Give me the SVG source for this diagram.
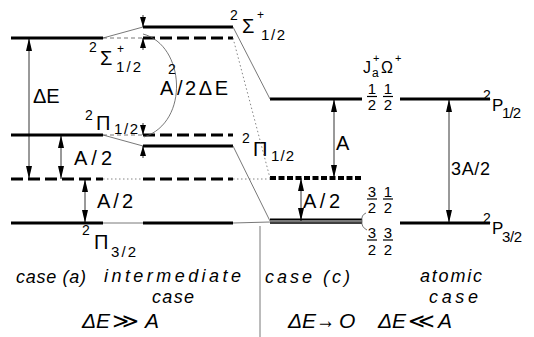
<svg xmlns="http://www.w3.org/2000/svg" width="534" height="337" viewBox="0 0 534 337">
<style>
.bg{fill:#fff}
.lvl{stroke:#000;stroke-width:3;fill:none}
.dash{stroke:#000;stroke-width:3;stroke-dasharray:12 5;fill:none}
.bdash{stroke:#000;stroke-width:4;stroke-dasharray:6 2.5;fill:none}
.thin{stroke:#555;stroke-width:0.8;fill:none}
.tdash{stroke:#555;stroke-width:0.8;stroke-dasharray:4 3;fill:none}
.dot{stroke:#666;stroke-width:0.8;stroke-dasharray:1.5 2.5;fill:none}
.arr{stroke:#000;stroke-width:0.8;fill:none;marker-start:url(#ah);marker-end:url(#ah)}
.sarr{stroke:#000;stroke-width:0.8;fill:none;marker-end:url(#ahs)}
.bar{stroke:#000;stroke-width:1.2}
text{font-family:"Liberation Sans","DejaVu Sans",sans-serif;fill:#000}
.lb{font-size:20px}
.sup{font-size:14px}
.sub{font-size:15px}
.fr{font-size:15px;text-anchor:middle}
.cap{font-size:18px;font-style:italic}
.eq{font-size:21px;font-style:italic}
</style>
<defs>
<marker id="ah" markerUnits="userSpaceOnUse" markerWidth="14" markerHeight="7" refX="13" refY="3" orient="auto-start-reverse">
<path d="M0,0 L13,3 L0,6 Z" fill="#000"/>
</marker>
<marker id="ahs" markerUnits="userSpaceOnUse" markerWidth="11" markerHeight="7" refX="10" refY="3" orient="auto">
<path d="M0,0 L10,3 L0,6 Z" fill="#000"/>
</marker>
</defs>
<rect class="bg" x="0" y="0" width="534" height="337"/>

<g id="case-a">
<line class="lvl" x1="11" y1="38" x2="103" y2="38"/>
<line class="lvl" x1="11" y1="135" x2="103" y2="135"/>
<line class="dash" x1="11" y1="179" x2="103" y2="179"/>
<line class="lvl" x1="11" y1="223" x2="103" y2="223"/>
<text class="sup" x="89" y="52">2</text><text class="lb" x="100" y="65">Σ</text><text style="font-size:12px" x="117" y="53">+</text><text class="sub" x="116" y="72" textLength="25">1/2</text>
<text class="sup" x="85" y="120">2</text><text class="lb" x="96" y="130">Π</text><text class="sub" x="114" y="134" textLength="24">1/2</text>
<text class="sup" x="82" y="235">2</text><text class="lb" x="94" y="249">Π</text><text class="sub" x="111" y="257" textLength="25">3/2</text>
</g>

<g id="intermediate">
<line class="lvl" x1="143" y1="27" x2="233" y2="27"/>
<line class="dash" x1="143" y1="38" x2="233" y2="38"/>
<line class="dash" x1="143" y1="135" x2="233" y2="135"/>
<line class="lvl" x1="143" y1="146" x2="233" y2="146"/>
<line class="dash" x1="143" y1="179" x2="233" y2="179"/>
<line class="lvl" x1="143" y1="223" x2="233" y2="223"/>
<text class="sup" x="230" y="20">2</text><text class="lb" x="242" y="33">Σ</text><text style="font-size:12px" x="257" y="19">+</text><text class="sub" x="261" y="40" textLength="24">1/2</text>
<text class="sup" x="242" y="143">2</text><text class="lb" x="253" y="156">Π</text><text class="sub" x="271" y="161" textLength="23">1/2</text>
</g>

<g id="case-c">
<line class="lvl" x1="270" y1="99" x2="362" y2="99"/>
<line class="bdash" x1="270" y1="178" x2="362" y2="178"/>
<line stroke="#000" stroke-width="2" x1="270" y1="219.5" x2="362" y2="219.5"/>
<line stroke="#777" stroke-width="1.5" x1="270" y1="221.3" x2="362" y2="221.3"/>
<line stroke="#000" stroke-width="1.5" x1="270" y1="223" x2="362" y2="223"/>
<text style="font-size:16px" x="363" y="73">J</text><text style="font-size:12px" x="372" y="77">a</text><text style="font-size:11px" x="373" y="62">+</text><text style="font-size:16px" x="381" y="73">Ω</text><text style="font-size:11px" x="395" y="62">+</text>
<text class="fr" x="372" y="94">1</text><line class="bar" x1="367" y1="96.5" x2="377" y2="96.5"/><text class="fr" x="372" y="110">2</text>
<text class="fr" x="388" y="94">1</text><line class="bar" x1="383" y1="96.5" x2="393" y2="96.5"/><text class="fr" x="388" y="110">2</text>
<text class="fr" x="372" y="197">3</text><line class="bar" x1="367" y1="199" x2="377" y2="199"/><text class="fr" x="372" y="213">2</text>
<text class="fr" x="388" y="197">1</text><line class="bar" x1="383" y1="199" x2="393" y2="199"/><text class="fr" x="388" y="213">2</text>
<text class="fr" x="372" y="238">3</text><line class="bar" x1="367" y1="240" x2="377" y2="240"/><text class="fr" x="372" y="255">2</text>
<text class="fr" x="388" y="238">3</text><line class="bar" x1="383" y1="240" x2="393" y2="240"/><text class="fr" x="388" y="255">2</text>
<path class="thin" d="M366,213 Q361,215 362,221 Q361,227 367,230"/>
</g>

<g id="atomic">
<line class="lvl" x1="400" y1="99" x2="490" y2="99"/>
<line class="lvl" x1="400" y1="223" x2="490" y2="223"/>
<text class="sup" x="483" y="100">2</text><text style="font-size:17px" x="492" y="111">P</text><text class="sub" x="502" y="118" textLength="19">1/2</text>
<text class="sup" x="483" y="223">2</text><text style="font-size:17px" x="492" y="234">P</text><text class="sub" x="502" y="242" textLength="20">3/2</text>
</g>

<g id="connectors">
<line class="thin" x1="103" y1="38" x2="143" y2="27"/>
<line class="tdash" x1="103" y1="38" x2="143" y2="38"/>
<line class="thin" x1="103" y1="135" x2="143" y2="146"/>
<line class="tdash" x1="103" y1="135" x2="143" y2="135"/>
<line class="dot" x1="103" y1="179" x2="143" y2="179"/>
<line class="thin" x1="103" y1="223" x2="143" y2="223"/>
<line class="thin" x1="233" y1="27" x2="270" y2="99"/>
<line class="dot" x1="233" y1="38" x2="270" y2="178"/>
<line class="thin" x1="233" y1="146" x2="270" y2="221"/>
<line class="dot" x1="233" y1="179" x2="270" y2="179"/>
<line class="thin" x1="233" y1="223" x2="270" y2="222"/>
<line class="thin" stroke="#000" x1="260" y1="226" x2="260" y2="337"/>
<path class="thin" stroke="#777" d="M143,34 C185,45 190,122 144,137"/>
<line class="arr" x1="29" y1="38" x2="29" y2="179"/>
<line class="arr" x1="61" y1="135" x2="61" y2="179"/>
<line class="arr" x1="85" y1="179" x2="85" y2="223"/>
<line class="arr" x1="334" y1="99" x2="334" y2="178"/>
<line class="arr" x1="301" y1="178" x2="301" y2="221"/>
<line class="arr" x1="449" y1="99" x2="449" y2="223"/>
<line class="sarr" x1="143" y1="15" x2="143" y2="27"/>
<line class="sarr" x1="143" y1="50" x2="143" y2="38"/>
<line class="sarr" x1="143" y1="123" x2="143" y2="135"/>
<line class="sarr" x1="143" y1="158" x2="143" y2="146"/>
</g>

<g id="labels">
<text class="lb" x="33" y="103">ΔE</text>
<text class="lb" x="74" y="165" textLength="38">A/2</text>
<text class="lb" x="97" y="208" textLength="36">A/2</text>
<text class="lb" x="160" y="95">A</text><text class="sup" x="168" y="74">2</text><text class="lb" x="177" y="95" textLength="51">/2ΔE</text>
<text class="lb" x="336" y="150">A</text>
<text class="lb" x="303" y="208" textLength="37">A/2</text>
<text style="font-size:18px" x="451" y="175" textLength="39">3A/2</text>
</g>

<g id="captions">
<text class="cap" x="16" y="283" textLength="70">case (a)</text>
<text class="cap" x="104" y="282" textLength="137">intermediate</text>
<text class="cap" x="152" y="303" textLength="42">case</text>
<text class="eq" x="82" y="328" textLength="28">ΔE</text>
<text class="eq" x="112" y="328" textLength="27" lengthAdjust="spacingAndGlyphs">≫</text>
<text class="eq" x="145" y="328">A</text>
<text class="cap" x="265" y="283" textLength="85">case (c)</text>
<text class="cap" x="420" y="282" textLength="62">atomic</text>
<text class="cap" x="429" y="303" textLength="49">case</text>
<text class="eq" x="288" y="328" textLength="28">ΔE</text>
<text style="font-size:24px" x="316" y="328" textLength="19" lengthAdjust="spacingAndGlyphs">→</text>
<text class="eq" x="339" y="328">O</text>
<text class="eq" x="378" y="328" textLength="28">ΔE</text>
<text class="eq" x="408" y="328" textLength="27" lengthAdjust="spacingAndGlyphs">≪</text>
<text class="eq" x="438" y="328">A</text>
</g>
</svg>
